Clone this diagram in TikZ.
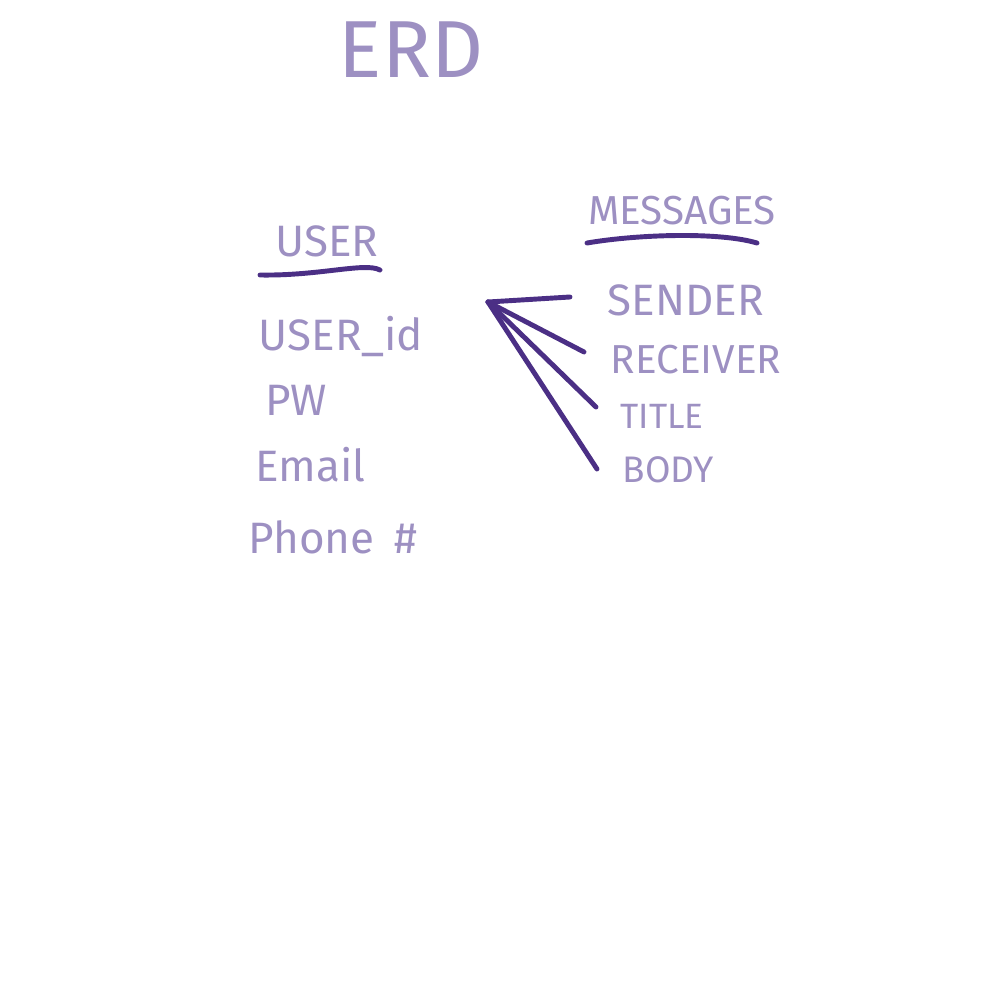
\documentclass[tikz,border=0pt]{standalone}
\usepackage{fontspec}
\setmainfont{Fira Sans}
\usepackage{xcolor}
\usepackage{tikz}
\usetikzlibrary{positioning}
\definecolor{lilac}{HTML}{9D90C2}
\definecolor{ink}{HTML}{4B2F85}
\tikzset{
  lbl/.style={text=lilac,inner sep=0pt,anchor=west,font=\fontsize{12.5}{14}\selectfont},
  ln/.style={ink,line width=1.4pt,line cap=round}
}

\begin{document}
\begin{tikzpicture}[x=0.01cm,y=-0.01cm]
\useasboundingbox (0,0) rectangle (1000,1000);
\node[lbl,anchor=center,font=\fontsize{23}{26}\selectfont] (erd) at (411,50) {ERD};
% user table
\node[lbl,anchor=center] (user) at (327,241) {USER};
\node[lbl] (uid) at (258,336) {USER\_id};
\node[lbl] (pw) at (265,400) {PW};
\node[lbl] (email) at (255,465) {Email};
\node[lbl] (phone) at (248,537) {Phone\hspace{0.2cm}\#};
\draw[ln] (260,275) .. controls (320,276) and (365,262) .. (380,270);
% messages table
\node[lbl,anchor=center,font=\fontsize{11.5}{13}\selectfont] (msg) at (682,211) {MESSAGES};
\draw[ln] (587,243) .. controls (640,234) and (720,232) .. (757,243);
\node[lbl] (sender) at (607,300) {SENDER};
\node[lbl,font=\fontsize{11.5}{13}\selectfont] (receiver) at (610,360) {RECEIVER};
\node[lbl,font=\fontsize{10}{12}\selectfont] (title) at (620,416) {TITLE};
\node[lbl,font=\fontsize{10.5}{12}\selectfont] (body) at (622,470) {BODY};
\coordinate (hub) at (488,302);
\draw[ln] (hub) -- ([xshift=-0.37cm,yshift=0.03cm]sender.west);
\draw[ln] (hub) -- ([xshift=-0.26cm,yshift=0.08cm]receiver.west);
\draw[ln] (hub) -- ([xshift=-0.24cm,yshift=0.09cm]title.west);
\draw[ln] (hub) -- ([xshift=-0.25cm,yshift=0.01cm]body.west);
\end{tikzpicture}
\end{document}
